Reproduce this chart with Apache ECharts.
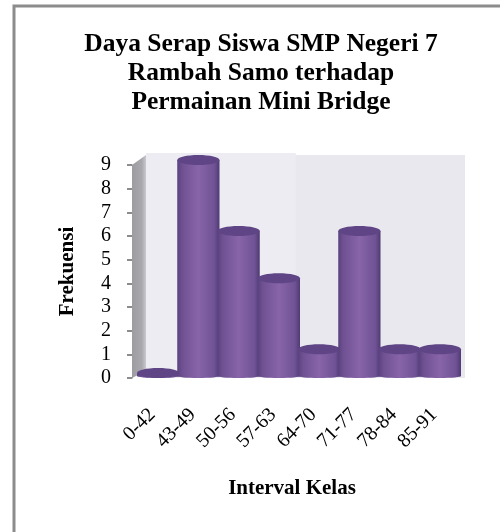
<!DOCTYPE html>
<html lang="en">
<head>
<meta charset="UTF-8">
<title>Daya Serap</title>
<style>
  html, body { margin: 0; background: #fff; }
  #main { width: 500px; height: 532px; }
</style>
</head>
<body>
<div id="main"></div>
<script src="https://cdn.jsdelivr.net/npm/echarts@6/dist/echarts.min.js"></script>
<script>
  var categories = ["0-42", "43-49", "50-56", "57-63", "64-70", "71-77", "78-84", "85-91"];
  var frekuensi = [0, 9, 6, 4, 1, 6, 1, 1];
  var ticks = [0, 1, 2, 3, 4, 5, 6, 7, 8, 9];
  var titleText = "Daya Serap Siswa SMP Negeri 7\nRambah Samo terhadap\nPermainan Mini Bridge";

  var serif = "'Liberation Serif', 'Times New Roman', serif";
  var depth = 5; // lift of the cylinder above the axis value

  var barFill = new echarts.graphic.LinearGradient(0, 0, 1, 0, [
    { offset: 0, color: "#5a4180" },
    { offset: 0.12, color: "#6f5192" },
    { offset: 0.5, color: "#8864a8" },
    { offset: 0.88, color: "#6f5295" },
    { offset: 1, color: "#4f3a72" }
  ]);
  var sideFill = new echarts.graphic.LinearGradient(0, 0, 1, 0, [
    { offset: 0, color: "#9c9ca1" },
    { offset: 0.7, color: "#a8a8ad" },
    { offset: 1, color: "#c8c8ce" }
  ]);

  function renderWalls(params, api) {
    var g = params.coordSys;
    var zero = api.coord([0, 0])[1];
    var top = api.coord([0, ticks[ticks.length - 1]])[1];
    var axisX = g.x - 6;
    var seam = g.x + g.width * 0.49;
    return {
      type: "group",
      silent: true,
      children: [
        { type: "rect", shape: { x: axisX + 14, y: top - 10, width: g.width - 8 + 5, height: zero - top + 10 }, style: { fill: "#e9e8ee" } },
        { type: "rect", shape: { x: axisX + 14, y: top - 12, width: seam - axisX - 14, height: zero - top + 12 }, style: { fill: "#edecf2" } },
        { type: "polygon", shape: { points: [[axisX, top], [axisX + 14, top - 10], [axisX + 14, zero - 7], [axisX, zero]] }, style: { fill: sideFill } }
      ]
    };
  }

  function renderBar(params, api) {
    var p = api.coord([api.value(0), api.value(1)]);
    var base = api.coord([api.value(0), 0]);
    var w = api.size([1, 0])[0] * 1.05;
    var rx = w / 2;
    var yTop = p[1] - depth, yBase = base[1] - 2;
    return {
      type: "group",
      children: [
        { type: "rect", shape: { x: p[0] - rx, y: yTop, width: w, height: yBase - yTop }, style: { fill: barFill } },
        { type: "ellipse", shape: { cx: p[0], cy: yBase, rx: rx, ry: 2 }, style: { fill: barFill } },
        { type: "ellipse", shape: { cx: p[0], cy: yTop, rx: rx, ry: depth }, style: { fill: "#5f4585" } }
      ]
    };
  }

  var myChart = echarts.init(document.getElementById("main"));
  var option = {
    animation: false,
    backgroundColor: "#fff",
    graphic: [
      { type: "rect", shape: { x: 14, y: 6, width: 600, height: 600 }, style: { fill: "none", stroke: "#8c8c8c", lineWidth: 3 }, silent: true, z: -1 }
    ],
    title: {
      text: titleText,
      left: 256,
      top: 25,
      textAlign: "center",
      textStyle: { fontFamily: serif, fontWeight: "bold", fontSize: 25.5, lineHeight: 29, color: "#000" }
    },
    grid: { left: 138, right: 40, top: 165, bottom: 154 },
    xAxis: {
      type: "category",
      data: categories,
      name: "Interval Kelas",
      nameLocation: "middle",
      nameGap: 100,
      nameTextStyle: { fontFamily: serif, fontWeight: "bold", fontSize: 21, color: "#000", padding: [0, 14, 0, 0] },
      axisLine: { show: false },
      axisTick: { show: false },
      axisLabel: { interval: 0, rotate: 45, margin: 28, padding: [0, 8, 0, 0], fontFamily: serif, fontSize: 20, color: "#000" }
    },
    yAxis: {
      type: "value",
      min: 0,
      max: 9,
      interval: 1,
      offset: 6,
      name: "Frekuensi",
      nameLocation: "middle",
      nameGap: 54,
      nameTextStyle: { fontFamily: serif, fontWeight: "bold", fontSize: 21, color: "#000" },
      axisLine: { show: true, lineStyle: { color: "#8c8c8c", width: 1 } },
      axisTick: { show: true, length: 5, lineStyle: { color: "#8c8c8c", width: 2 } },
      axisLabel: { margin: 21, fontFamily: serif, fontSize: 20, color: "#000" },
      splitLine: { show: false }
    },
    series: [
      { type: "custom", renderItem: renderWalls, data: [[0, 0]], silent: true, z: 1, clip: false },
      {
        type: "custom",
        renderItem: renderBar,
        encode: { x: 0, y: 1 },
        data: frekuensi.map(function (v, i) { return [i, v]; }),
        z: 2,
        clip: false
      }
    ]
  };
  myChart.setOption(option);
</script>
</body>
</html>
